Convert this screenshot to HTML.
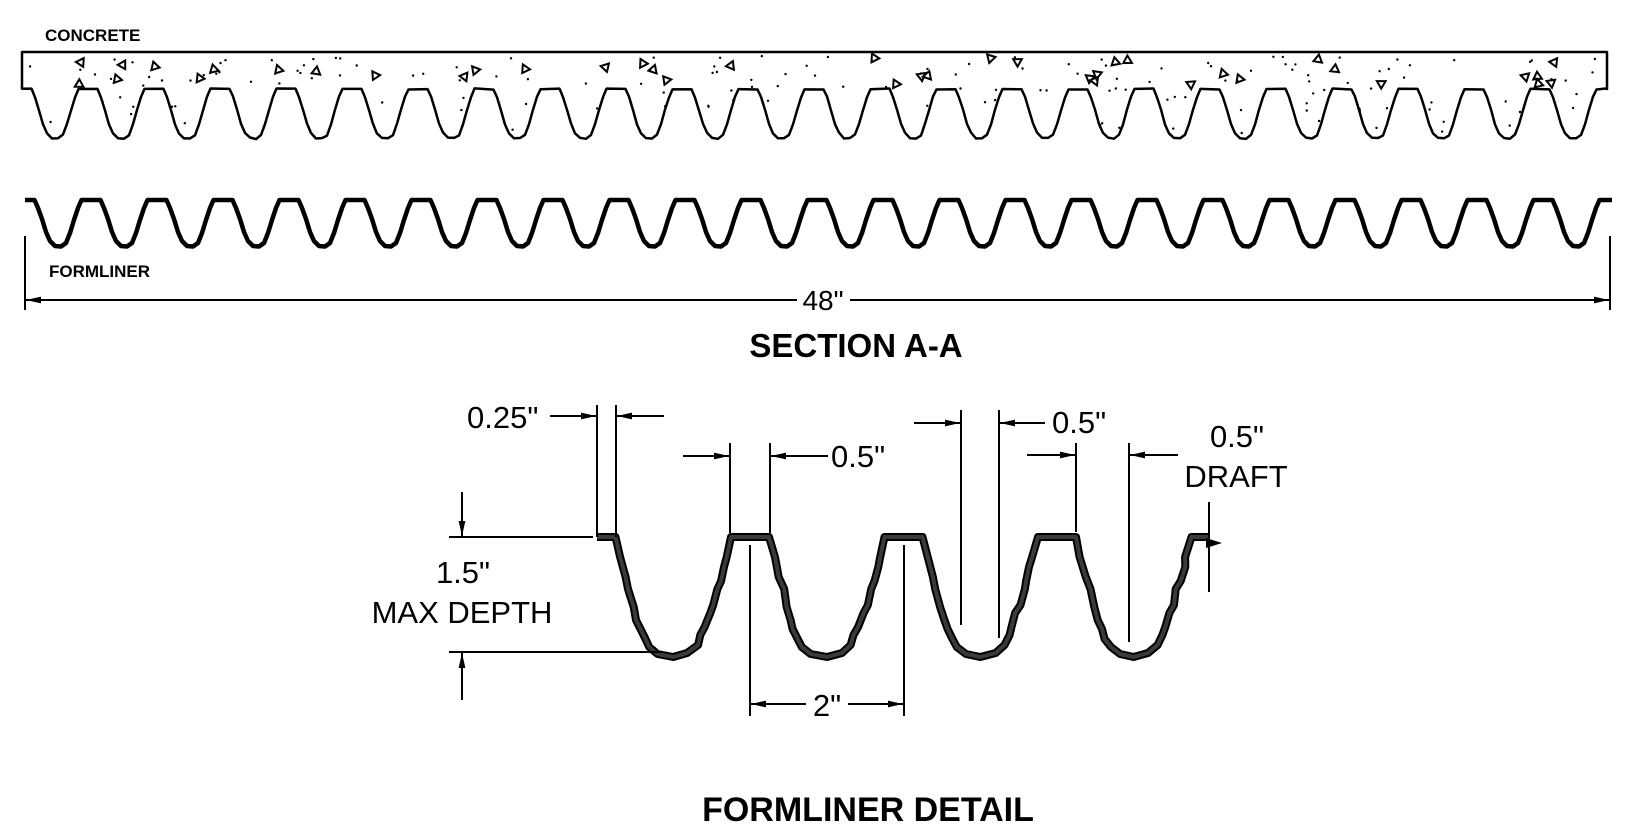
<!DOCTYPE html>
<html><head><meta charset="utf-8"><style>
html,body{margin:0;padding:0;background:#fff;}
svg{display:block;}
text{font-family:"Liberation Sans",Arial,sans-serif;fill:#000;}
.b{font-weight:bold;}
</style></head><body>
<svg id="s" xmlns="http://www.w3.org/2000/svg" width="1633" height="831" viewBox="0 0 1633 831">
<defs>
<marker id="ah" markerUnits="userSpaceOnUse" markerWidth="16" markerHeight="10" refX="15" refY="4" orient="auto"><path d="M0,0.6 L15,4 L0,7.4 Z" fill="#000"/></marker>
</defs>
<g id="conc"></g>
<g id="form"></g>
<g id="det"></g>
<text class="b" x="45" y="41" font-size="17">CONCRETE</text>
<text class="b" x="49" y="277" font-size="17">FORMLINER</text>
<line x1="25" y1="236" x2="25" y2="310" stroke="#000" stroke-width="2"/>
<line x1="1610" y1="236" x2="1610" y2="310" stroke="#000" stroke-width="2"/>
<line x1="797" y1="300" x2="26" y2="300" stroke="#000" stroke-width="2" marker-end="url(#ah)"/>
<line x1="850" y1="300" x2="1609" y2="300" stroke="#000" stroke-width="2" marker-end="url(#ah)"/>
<text x="823" y="310" font-size="28" text-anchor="middle">48"</text>
<text class="b" x="856" y="357" font-size="33" text-anchor="middle">SECTION A-A</text>
<text class="b" x="868" y="821" font-size="34" text-anchor="middle">FORMLINER DETAIL</text>
<g stroke="#000" stroke-width="2" fill="none">
<line x1="597" y1="405" x2="597" y2="537"/>
<line x1="616" y1="405" x2="616" y2="537"/>
<line x1="550" y1="416" x2="596" y2="416" marker-end="url(#ah)"/>
<line x1="664" y1="416" x2="617" y2="416" marker-end="url(#ah)"/>
<line x1="449" y1="537" x2="593" y2="537"/>
<line x1="449" y1="652" x2="661" y2="652"/>
<line x1="462" y1="492" x2="462" y2="536" marker-end="url(#ah)"/>
<line x1="462" y1="700" x2="462" y2="653" marker-end="url(#ah)"/>
<line x1="730" y1="443" x2="730" y2="533"/>
<line x1="770" y1="443" x2="770" y2="533"/>
<line x1="683" y1="456" x2="729" y2="456" marker-end="url(#ah)"/>
<line x1="828" y1="456" x2="771" y2="456" marker-end="url(#ah)"/>
<line x1="961" y1="410" x2="961" y2="625"/>
<line x1="999" y1="410" x2="999" y2="638"/>
<line x1="914" y1="423" x2="960" y2="423" marker-end="url(#ah)"/>
<line x1="1045" y1="423" x2="1000" y2="423" marker-end="url(#ah)"/>
<line x1="1076" y1="443" x2="1076" y2="532"/>
<line x1="1129" y1="443" x2="1129" y2="642"/>
<line x1="1027" y1="455" x2="1075" y2="455" marker-end="url(#ah)"/>
<line x1="1178" y1="455" x2="1130" y2="455" marker-end="url(#ah)"/>
<line x1="1209" y1="502" x2="1209" y2="592"/>
<line x1="750" y1="545" x2="750" y2="716"/>
<line x1="904" y1="545" x2="904" y2="716"/>
<line x1="806" y1="704" x2="751" y2="704" marker-end="url(#ah)"/>
<line x1="848" y1="704" x2="903" y2="704" marker-end="url(#ah)"/>
</g>
<path d="M1206,538 L1222,543 L1206,548 Z" fill="#000"/>
<g font-size="31">
<text x="467" y="428">0.25"</text>
<text x="463" y="583" text-anchor="middle">1.5"</text>
<text x="462" y="623" text-anchor="middle">MAX DEPTH</text>
<text x="831" y="467">0.5"</text>
<text x="1052" y="433">0.5"</text>
<text x="1237" y="447" text-anchor="middle">0.5"</text>
<text x="1236" y="487" text-anchor="middle">DRAFT</text>
<text x="827" y="716" text-anchor="middle">2"</text>
</g>
</svg>
<script>
(function(){
var NS="http://www.w3.org/2000/svg";
function el(p,tag,a){var e=document.createElementNS(NS,tag);for(var k in a)e.setAttribute(k,a[k]);p.appendChild(e);return e;}
var seed=7;function r(){seed=(seed*16807)%2147483647;return seed/2147483647;}
var p=[[22,89]];
for(var k=0;k<24;k++){var c=22+66*k;
 p.push([c+9.5,89],[c+13,97],[c+17,110],[c+21,124],[c+25,133],[c+30,138],[c+36,138.5],[c+41,135],[c+45,124],[c+49,110],[c+53,97],[c+56.5,89]);}
p.push([1607,89]);
var cd="M22,52 L1607,52 L1607,89";
for(var i=p.length-1;i>=0;i--){cd+=" L"+p[i][0].toFixed(1)+","+(p[i][1]+(r()-0.5)*1.2).toFixed(1);}
cd+=" Z";
var g=document.getElementById("conc");
el(g,"path",{d:cd,fill:"none",stroke:"#000","stroke-width":"2.5","stroke-linejoin":"round"});
for(var n=0;n<220;n++){var x=28+r()*1575,y=56+r()*80;
 if(y>87){ var off=x-(22+66*Math.floor((x-22)/66)); if(off<14||off>52)continue; var lim=89+ (Math.min(off-9.5,56.5-off))*3; if(y>lim||y>134)continue;}
 el(g,"circle",{cx:x.toFixed(1),cy:y.toFixed(1),r:"1.2",fill:"#000"});}
for(var n=0;n<40;n++){var x=30+r()*1570,y=58+r()*28;var a=r()*6.28;var pp=[];for(var j=0;j<3;j++){var t=a+j*2.094;pp.push((x+5*Math.cos(t)).toFixed(1)+","+(y+5*Math.sin(t)).toFixed(1));}
 el(g,"polygon",{points:pp.join(" "),fill:"none",stroke:"#000","stroke-width":"2"});}
var f=document.getElementById("form");
var fd="M25,200";
for(var k=0;k<=24;k++){var c=25+66*k;
 if(k==24){fd+=" L1612,200";break;}
 fd+=" L"+(c+9.5)+",200 L"+(c+13)+",208 L"+(c+17)+",219 L"+(c+21)+",232 L"+(c+25)+",241 L"+(c+30)+",246 L"+(c+36)+",246.5 L"+(c+41)+",243 L"+(c+45)+",233 L"+(c+49)+",220 L"+(c+53)+",208 L"+(c+56.5)+",200";}
el(f,"path",{d:fd,fill:"none",stroke:"#000","stroke-width":"4.5","stroke-linejoin":"round"});
var D=document.getElementById("det");
var off=[[19,0],[24,20],[29,40],[33,52],[37,70],[41,83],[44,92],[49,102],[53,110],[62,117],[76.75,120],[91.5,116],[101.5,108],[105,98],[109.5,90],[113,76],[116.5,68],[120,52],[123.5,44],[127,30],[129.5,20],[134.5,0]];
var dd="M597,537";
for(var k=0;k<4;k++){var c=596.5+153.5*k;
 for(var j=0;j<off.length;j++){var jx=(j>0&&j<off.length-1)?(r()-0.5)*3:0;dd+=" L"+(c+off[j][0]+jx).toFixed(1)+","+(537+off[j][1]).toFixed(1);}
}
dd+=" L1208,537";
el(D,"path",{d:dd,fill:"none",stroke:"#000","stroke-width":"8","stroke-linejoin":"round"});
el(D,"path",{d:dd,fill:"none",stroke:"#3a3a3a","stroke-width":"4","stroke-linejoin":"round"});
})();
</script>
</body></html>
